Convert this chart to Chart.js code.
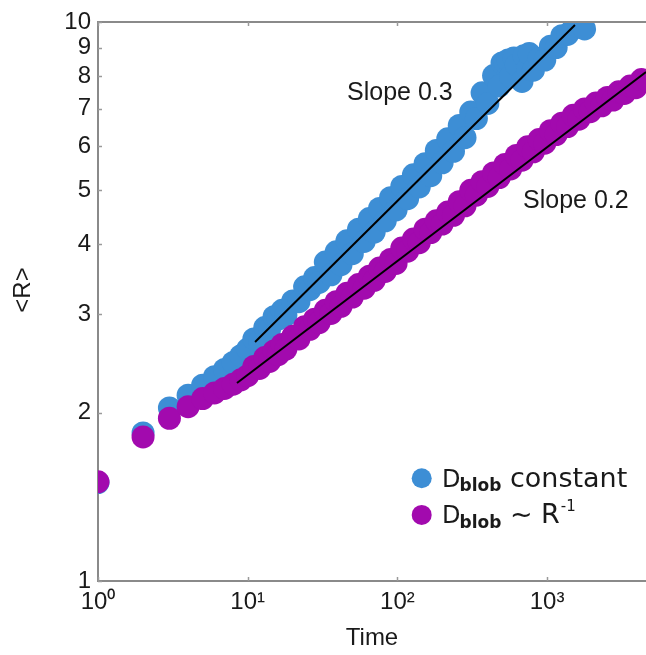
<!DOCTYPE html>
<html>
<head>
<meta charset="utf-8">
<script src="https://cdn.jsdelivr.net/npm/chart.js@4/dist/chart.umd.min.js"></script>
<style>
  html, body { margin: 0; padding: 0; background: #ffffff; overflow: hidden; }
  #wrap { position: relative; width: 646px; height: 655px; }
</style>
</head>
<body>
<div id="wrap"><canvas id="c" width="646" height="655"></canvas></div>
<script>
// ---- data ----
const xTickValues = [1, 10, 100, 1000];
const xTickLabels = ['10\u2070', '10\u00B9', '10\u00B2', '10\u00B3'];
const yTickValues = [1, 2, 3, 4, 5, 6, 7, 8, 9, 10];
const yTickLabels = ['1', '2', '3', '4', '5', '6', '7', '8', '9', '10'];

const seriesNames = ['D_blob constant', 'D_blob ~ R^-1'];

// D_blob constant (blue)
const blueTime = [1,2,3,4,5,6,7,8,9,10,11,12,13,14,15,16,17,18,20,22,24,26,28,30,33,36,39,42,46,50,55,60,65,70,76,83,90,98,107,117,128,140,153,167,182,199,217,237,259,283,309,337,368,402,439,479,500,523,550,571,600,623,680,700,742,760,810,884,965,1053,1150,1255,1370,1495,1632,1780];
const blueR = [1.50,1.84,2.04,2.15,2.24,2.32,2.39,2.46,2.53,2.60,2.71,2.69,2.84,2.82,2.97,2.94,3.05,2.99,3.17,3.16,3.36,3.32,3.49,3.42,3.72,3.53,3.88,3.68,4.06,3.85,4.26,4.05,4.45,4.21,4.64,4.41,4.85,4.61,5.08,4.83,5.33,5.07,5.58,5.31,5.89,5.60,6.18,5.87,6.53,6.21,6.90,6.72,7.47,7.15,8.02,7.68,8.45,8.47,8.55,7.99,8.62,8.38,7.83,8.70,8.25,8.78,8.20,8.60,8.55,9.05,9.00,9.45,9.50,9.75,9.80,9.72];

// D_blob ~ R^-1 (purple)
const purpleTime = [1,2,3,4,5,6,7,8,9,10,11,12,13,14,15,16,17,18,20,22,24,26,28,30,33,36,39,42,46,50,55,60,65,70,76,83,90,98,107,117,128,140,153,167,182,199,217,237,259,283,309,337,368,402,439,479,523,571,623,680,742,810,884,965,1053,1150,1255,1370,1495,1632,1780,1943,2121,2315,2527,2758,3010,3286,3587,3915,4274,4665];
const purpleR = [1.505,1.81,1.955,2.05,2.12,2.17,2.21,2.25,2.29,2.33,2.42,2.40,2.51,2.47,2.58,2.54,2.65,2.60,2.74,2.71,2.85,2.82,2.94,2.90,3.05,3.01,3.16,3.10,3.27,3.22,3.39,3.34,3.51,3.45,3.63,3.58,3.76,3.70,3.94,3.89,4.09,4.03,4.26,4.20,4.41,4.35,4.57,4.51,4.77,4.69,5.00,4.90,5.18,5.08,5.37,5.27,5.56,5.46,5.77,5.66,5.98,5.86,6.16,6.07,6.39,6.29,6.59,6.50,6.81,6.70,6.99,6.91,7.16,7.08,7.33,7.25,7.50,7.45,7.68,7.63,7.89,7.87];

// fitted power-law lines (end points)
const blueFitTime = [11.2, 1535];
const blueFitR = [2.677, 9.88];
const purpleFitTime = [8.48, 4579];
const purpleFitR = [2.26, 8.14];

const annotations = ['Slope 0.3', 'Slope 0.2'];

// ---- styling ----
const BLUE = '#3d8ed5';
const PURPLE = '#a20aae';
const AXIS = '#8a8a8a';
const TEXT = '#1a1a1a';
const FONT = "'Liberation Sans', Arial, Helvetica, sans-serif";

const pts = (xs, ys) => xs.map((x, i) => ({ x: x, y: ys[i] }));

const overlay = {
  id: 'overlay',
  afterDatasetsDraw(chart) {
    const { ctx, chartArea: a, scales } = chart;
    ctx.save();
    ctx.strokeStyle = AXIS;
    ctx.lineWidth = 2;
    ctx.beginPath();
    ctx.moveTo(a.left, a.top);
    ctx.lineTo(a.right + 2, a.top);
    ctx.stroke();
    ctx.lineWidth = 1.5;
    ctx.strokeStyle = '#9a9a9a';
    yTickValues.forEach(v => {
      const y = Math.round(scales.y.getPixelForValue(v)) + 0.5;
      ctx.beginPath(); ctx.moveTo(a.left, y); ctx.lineTo(a.left + 4, y); ctx.stroke();
    });
    xTickValues.forEach(v => {
      const x = Math.round(scales.x.getPixelForValue(v)) + 0.5;
      ctx.beginPath(); ctx.moveTo(x, a.bottom); ctx.lineTo(x, a.bottom - 4); ctx.stroke();
      ctx.beginPath(); ctx.moveTo(x, a.top); ctx.lineTo(x, a.top + 4); ctx.stroke();
    });
    ctx.restore();
  },
  afterDraw(chart) {
    const { ctx } = chart;
    ctx.save();
    ctx.fillStyle = TEXT;
    ctx.textBaseline = 'alphabetic';
    ctx.textAlign = 'left';
    ctx.save();
    ctx.translate(29.5, 290);
    ctx.rotate(-Math.PI / 2);
    ctx.textAlign = 'center';
    ctx.font = '24px ' + FONT;
    ctx.fillText('<R>', 0, 0);
    ctx.restore();
    ctx.font = '25px ' + FONT;
    ctx.fillText(annotations[0], 347, 99.5);
    ctx.fillText(annotations[1], 523, 207.5);
    const rows = [
      { color: BLUE, y: 486.7, tail: ' constant', sup: '' },
      { color: PURPLE, y: 523.3, tail: ' ~ R', sup: '-1' }
    ];
    const LF = "'DejaVu Sans', Verdana, sans-serif";
    rows.forEach(r => {
      ctx.fillStyle = r.color;
      ctx.beginPath();
      ctx.arc(421.7, r.y - 8.4, 10, 0, Math.PI * 2);
      ctx.fill();
      ctx.fillStyle = TEXT;
      let x = 442;
      ctx.font = '24px ' + LF;
      ctx.fillText('D', x, r.y);
      x += ctx.measureText('D').width;
      ctx.font = 'bold 17px ' + LF;
      ctx.fillText('blob', x - 1, r.y + 4.5);
      x += ctx.measureText('blob').width - 1;
      ctx.font = '27px ' + LF;
      ctx.fillText(r.tail, x, r.y);
      x += ctx.measureText(r.tail).width;
      if (r.sup) {
        ctx.font = '15px ' + LF;
        ctx.fillText(r.sup, x + 1, r.y - 12);
      }
    });
    ctx.restore();
  }
};

new Chart(document.getElementById('c'), {
  type: 'scatter',
  data: {
    datasets: [
      { label: 'fit blue', data: pts(blueFitTime, blueFitR), showLine: true, borderColor: '#000000', borderWidth: 2, pointRadius: 0, order: 0 },
      { label: 'fit purple', data: pts(purpleFitTime, purpleFitR), showLine: true, borderColor: '#000000', borderWidth: 2, pointRadius: 0, order: 0 },
      { label: seriesNames[1], data: pts(purpleTime, purpleR), backgroundColor: PURPLE, borderWidth: 0, pointRadius: 11.5, order: 1 },
      { label: seriesNames[0], data: pts(blueTime, blueR), backgroundColor: BLUE, borderWidth: 0, pointRadius: 11.5, order: 2 }
    ]
  },
  options: {
    responsive: false,
    animation: false,
    devicePixelRatio: 1,
    layout: { autoPadding: false, padding: { top: 22, right: 0, left: 0, bottom: 0 } },
    plugins: { legend: { display: false }, tooltip: { enabled: false } },
    scales: {
      x: {
        type: 'logarithmic',
        min: 1,
        max: 4579,
        afterBuildTicks: s => { s.ticks = xTickValues.map(v => ({ value: v })); },
        afterFit: s => { s.height = 74; s.paddingLeft = 0; s.paddingRight = 0; },
        ticks: {
          autoSkip: false, maxRotation: 0, padding: 7, color: TEXT,
          font: { family: FONT, size: 24 },
          callback: (v) => { const i = xTickValues.indexOf(v); return i >= 0 ? xTickLabels[i] : ''; }
        },
        grid: { display: false, drawTicks: false },
        border: { display: true, color: AXIS, width: 2 },
        title: { display: true, text: 'Time', color: TEXT, font: { family: FONT, size: 24 }, padding: { top: 0, bottom: 2 } }
      },
      y: {
        type: 'logarithmic',
        min: 1,
        max: 10,
        afterBuildTicks: s => { s.ticks = yTickValues.map(v => ({ value: v })); },
        afterFit: s => { s.width = 98; s.paddingTop = 0; s.paddingBottom = 0; },
        ticks: {
          autoSkip: false, padding: 7, color: TEXT,
          font: { family: FONT, size: 24 },
          callback: (v) => { const i = yTickValues.indexOf(v); return i >= 0 ? yTickLabels[i] : ''; }
        },
        grid: { display: false, drawTicks: false },
        border: { display: true, color: AXIS, width: 2 },
        title: { display: false }
      }
    }
  },
  plugins: [overlay]
});
</script>
</body>
</html>
